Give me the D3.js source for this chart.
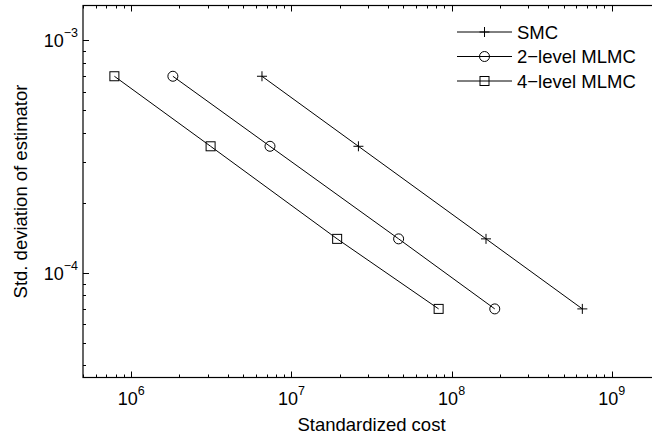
<!DOCTYPE html>
<html>
<head>
<meta charset="utf-8">
<script src="https://cdn.jsdelivr.net/npm/d3@7"></script>
<style>
  html, body { margin: 0; padding: 0; background: #fff; }
  svg { display: block; }
</style>
</head>
<body>
<script>
// values
var seriesNames = ['SMC', '2\u2212level MLMC', '4\u2212level MLMC'];
var stdDev = [7e-4, 3.5e-4, 1.4e-4, 7e-5];
var costSMC = [6.55e6, 2.62e7, 1.64e8, 6.55e8];
var cost2level = [1.82e6, 7.35e6, 4.67e7, 1.86e8];
var cost4level = [7.85e5, 3.13e6, 1.93e7, 8.3e7];
var markers = ['plus', 'circle', 'square'];

var xMajor = [1e6, 1e7, 1e8, 1e9];
var xExp = ['6', '7', '8', '9'];
var yMajor = [1e-4, 1e-3];
var yExp = ['\u22124', '\u22123'];

var W = 652, H = 437;
var plotL = 83, plotR = 660, plotT = 5.5, plotB = 377.5;
var FONT = '"Liberation Sans", Arial, Helvetica, sans-serif';

var series = [costSMC, cost2level, cost4level].map(function(c, i) {
  return {
    name: seriesNames[i],
    marker: markers[i],
    points: c.map(function(v, j) { return { x: v, y: stdDev[j] }; })
  };
});

var x = d3.scaleLog().domain([5e5, 2e9]).range([plotL, plotR]);
var y = d3.scaleLog().domain([3.55e-5, 1.41e-3]).range([plotB, plotT]);

var svg = d3.select('body').append('svg')
  .attr('width', W)
  .attr('height', H)
  .style('font-family', FONT);

// inward ticks, major longer than minor
var isMajorX = function(d) { return xMajor.some(function(m) { return Math.abs(m - d) / m < 1e-9; }); };
var isMajorY = function(d) { return yMajor.some(function(m) { return Math.abs(m - d) / m < 1e-9; }); };

var ticks = svg.append('g').attr('stroke', '#000').attr('stroke-width', 1);
x.ticks().forEach(function(d) {
  var px = Math.round(x(d)) + 0.5, len = isMajorX(d) ? 6 : 3;
  ticks.append('line').attr('x1', px).attr('x2', px).attr('y1', plotB).attr('y2', plotB - len);
  ticks.append('line').attr('x1', px).attr('x2', px).attr('y1', plotT).attr('y2', plotT + len);
});
y.ticks().forEach(function(d) {
  var py = Math.round(y(d)) + 0.5, len = isMajorY(d) ? 6 : 3;
  ticks.append('line').attr('x1', plotL).attr('x2', plotL + len).attr('y1', py).attr('y2', py);
  ticks.append('line').attr('x1', plotR).attr('x2', plotR - len).attr('y1', py).attr('y2', py);
});

// axes box
svg.append('rect')
  .attr('x', plotL).attr('y', plotT)
  .attr('width', plotR - plotL).attr('height', plotB - plotT)
  .attr('fill', 'none').attr('stroke', '#000').attr('stroke-width', 1.2);

// x tick labels
var xl = svg.append('g').selectAll('text')
  .data(xMajor)
  .enter()
  .append('text')
    .attr('x', function(d) { return x(d); })
    .attr('y', 405)
    .attr('text-anchor', 'middle')
    .style('font-size', '18px');
xl.append('tspan').text('10');
xl.append('tspan').attr('dy', -10).style('font-size', '12.5px')
  .text(function(d, i) { return xExp[i]; });

// y tick labels
var yl = svg.append('g').selectAll('text')
  .data(yMajor)
  .enter()
  .append('text')
    .attr('x', 78)
    .attr('y', function(d) { return y(d) + 7; })
    .attr('text-anchor', 'end')
    .style('font-size', '18px');
yl.append('tspan').text('10');
yl.append('tspan').attr('dy', -10).style('font-size', '12.5px')
  .text(function(d, i) { return yExp[i]; });

// axis titles
svg.append('text')
  .attr('x', 371.5).attr('y', 431)
  .attr('text-anchor', 'middle')
  .style('font-size', '18.5px')
  .text('Standardized cost');

svg.append('text')
  .attr('transform', 'translate(27,' + ((plotT + plotB) / 2) + ') rotate(-90)')
  .attr('text-anchor', 'middle')
  .style('font-size', '18.5px')
  .text('Std. deviation of estimator');

// marker drawing
function drawMarker(g, type, cx, cy) {
  if (type === 'plus') {
    g.append('path').attr('d', 'M' + (cx - 5) + ',' + cy + 'H' + (cx + 5) + 'M' + cx + ',' + (cy - 5) + 'V' + (cy + 5));
  } else if (type === 'circle') {
    g.append('circle').attr('cx', cx).attr('cy', cy).attr('r', 5);
  } else {
    g.append('rect').attr('x', cx - 4.5).attr('y', cy - 4.5).attr('width', 9).attr('height', 9);
  }
}

var line = d3.line()
  .x(function(d) { return x(d.x); })
  .y(function(d) { return y(d.y); });

var plot = svg.append('g')
  .attr('fill', 'none')
  .attr('stroke', '#000')
  .attr('stroke-width', 1);

series.forEach(function(s) {
  plot.append('path').attr('d', line(s.points));
  s.points.forEach(function(p) {
    drawMarker(plot, s.marker, x(p.x), y(p.y));
  });
});

// legend
var legY = [32, 56.5, 81];
var leg = svg.append('g');
series.forEach(function(s, i) {
  var g = leg.append('g').attr('fill', 'none').attr('stroke', '#000').attr('stroke-width', 1);
  g.append('line').attr('x1', 457).attr('x2', 512).attr('y1', legY[i]).attr('y2', legY[i]);
  drawMarker(g, s.marker, 484.5, legY[i]);
  leg.append('text')
    .attr('x', 517)
    .attr('y', legY[i] + 6.5)
    .style('font-size', '18.5px')
    .text(s.name);
});
</script>
</body>
</html>
